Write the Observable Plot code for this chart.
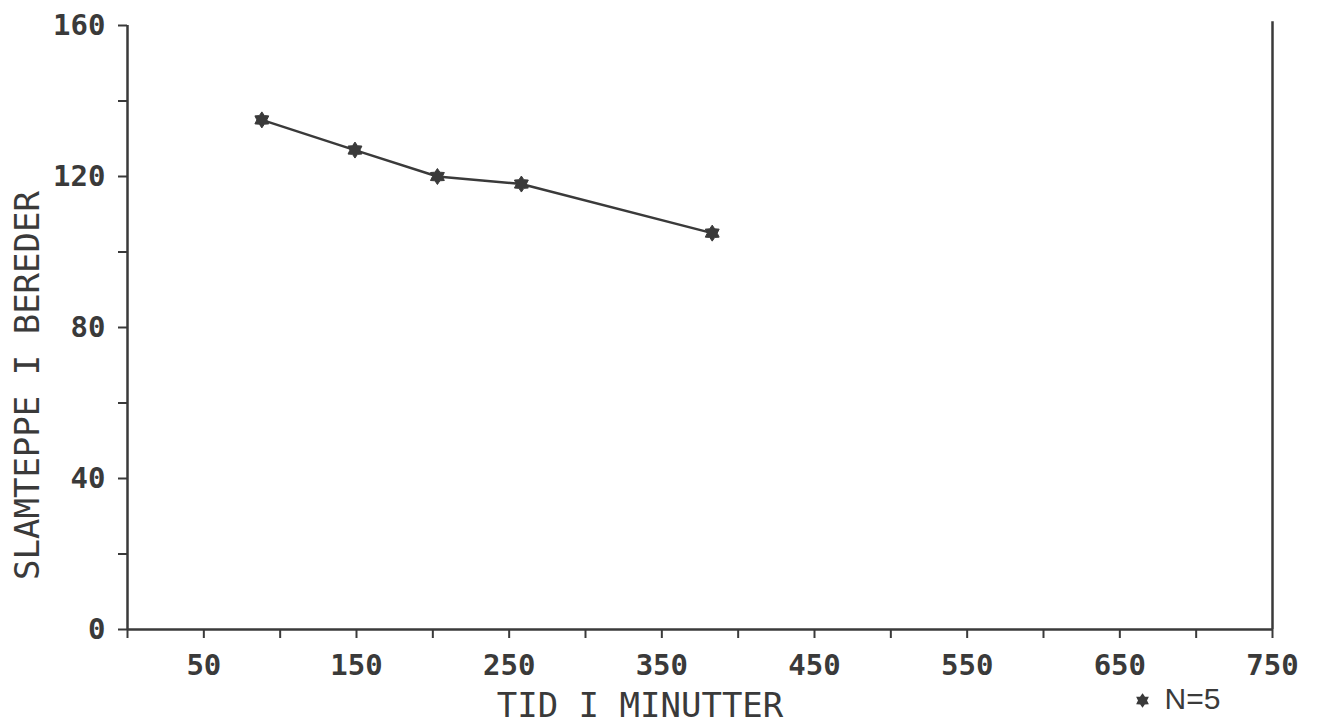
<!DOCTYPE html>
<html>
<head>
<meta charset="utf-8">
<script src="https://cdn.jsdelivr.net/npm/d3@7"></script>
<script src="https://cdn.jsdelivr.net/npm/@observablehq/plot@0.6"></script>
<style>
  html, body { margin: 0; padding: 0; background: #fff; }
</style>
</head>
<body>
<div id="chart"></div>
<script>
// Data
const timeMinutes = [88, 149, 203, 258, 383];
const sludgeBlanket = [135, 127, 120, 118, 105];

// Axis ticks
const xTickLabels = [50, 150, 250, 350, 450, 550, 650, 750];
const xMinorTicks = [0, 100, 200, 300, 400, 500, 600, 700];
const yTickLabels = [0, 40, 80, 120, 160];
const yMinorTicks = [20, 60, 100, 140];

const xTitle = "TID I MINUTTER";
const yTitle = "SLAMTEPPE I BEREDER";
const legendLabel = "N=5";

const data = timeMinutes.map((t, i) => ({t, v: sludgeBlanket[i]}));
const ink = "#3a3a3a";
const mono = "'DejaVu Sans Mono', monospace";

// six-pointed star symbol
const star6 = {
  draw(context, size) {
    const R = Math.sqrt(size / Math.PI);
    const r = R * 0.62;
    for (let i = 0; i < 12; i++) {
      const a = (i * Math.PI) / 6 - Math.PI / 2;
      const rr = i % 2 === 0 ? R : r;
      const x = rr * Math.cos(a), y = rr * Math.sin(a);
      if (i === 0) context.moveTo(x, y); else context.lineTo(x, y);
    }
    context.closePath();
  }
};

const xTicks = [...xMinorTicks, ...xTickLabels].sort((a, b) => a - b);
const yTicks = [...yMinorTicks, ...yTickLabels].sort((a, b) => a - b);

const chart = Plot.plot({
  width: 1318,
  height: 724,
  marginLeft: 127,
  marginRight: 46,
  marginTop: 25,
  marginBottom: 95,
  style: {fontFamily: mono, fontSize: "29px", color: ink, background: "#fff"},
  x: {domain: [0, 750]},
  y: {domain: [0, 160]},
  marks: [
    Plot.axisX({ticks: xTicks, tickFormat: d => xTickLabels.includes(d) ? d : "", tickSize: 9, tickPadding: 16, label: null, stroke: ink, strokeWidth: 2, fill: ink, fontSize: 29, fontFamily: mono, fontWeight: 600}),
    Plot.axisY({ticks: yTicks, tickFormat: d => yTickLabels.includes(d) ? d : "", tickSize: 9, tickPadding: 13, label: null, stroke: ink, strokeWidth: 2, fill: ink, fontSize: 29, fontFamily: mono, fontWeight: 600}),
    Plot.ruleY([0], {stroke: ink, strokeWidth: 2.5}),
    Plot.ruleX([0], {y1: 0, y2: 160, stroke: ink, strokeWidth: 2.5}),
    Plot.ruleX([750], {y1: 0, y2: 161, stroke: ink, strokeWidth: 2.5}),
    Plot.line(data, {x: "t", y: "v", stroke: ink, strokeWidth: 2.5}),
    Plot.dot(data, {x: "t", y: "v", symbol: star6, r: 8, fill: ink, stroke: ink, strokeWidth: 1}),
    Plot.text([xTitle], {frameAnchor: "bottom", dx: -60, dy: 77, fontSize: 34, fill: ink, textAnchor: "middle", lineAnchor: "middle", fontFamily: mono}),
    Plot.text([yTitle], {frameAnchor: "left", dx: -99, dy: 58, rotate: -90, fontSize: 34, fill: ink, textAnchor: "middle", lineAnchor: "middle", fontFamily: mono}),
    Plot.dot([legendLabel], {frameAnchor: "bottom-right", dx: -130, dy: 71, symbol: star6, r: 6, fill: ink, stroke: ink}),
    Plot.text([legendLabel], {frameAnchor: "bottom-right", dx: -108, dy: 70, textAnchor: "start", lineAnchor: "middle", fontSize: 30, fill: ink, fontFamily: "'Liberation Sans', sans-serif"})
  ]
});
document.getElementById("chart").appendChild(chart);
</script>
</body>
</html>
